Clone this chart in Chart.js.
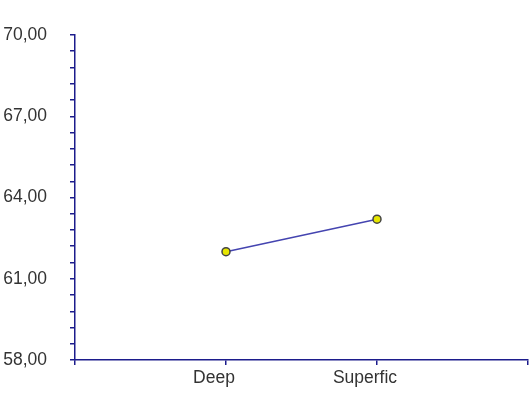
<!DOCTYPE html>
<html>
<head>
<meta charset="utf-8">
<script src="https://cdn.jsdelivr.net/npm/chart.js@4"></script>
<style>
  html, body { margin: 0; padding: 0; background: #fff; }
  #wrap { width: 530px; height: 408px; }
</style>
</head>
<body>
<div id="wrap"><canvas id="chart" width="530" height="408"></canvas></div>
<script>
const categories = ['Deep', 'Superfic'];
const values = [62.0, 63.2];
const yTickLabels = [58, 61, 64, 67, 70];

const axisColor = '#1c1c8c';
const points = categories.map((c, i) => ({ x: i + 1, y: values[i] }));

const ctx = document.getElementById('chart').getContext('2d');
const chart = new Chart(ctx, {
    type: 'line',
    data: {
        datasets: [{
            data: points,
            borderColor: '#4444b0',
            borderWidth: 1.5,
            pointBackgroundColor: '#e6e600',
            pointBorderColor: '#444',
            pointBorderWidth: 1.5,
            pointRadius: 4,
            tension: 0
        }]
    },
    options: {
        responsive: false,
        animation: false,
        layout: { autoPadding: false, padding: { top: 35, right: 2, left: 0, bottom: 0 } },
        plugins: { legend: { display: false }, tooltip: { enabled: false } },
        scales: {
            x: {
                type: 'linear',
                min: 0,
                max: categories.length + 1,
                afterFit: s => { s.height = 48; },
                afterBuildTicks: s => {
                    s.ticks = [];
                    for (let i = 0; i <= categories.length + 1; i++) s.ticks.push({ value: i });
                },
                border: { color: axisColor, width: 1.5 },
                grid: { drawOnChartArea: false, tickLength: 5, color: axisColor, lineWidth: 1.5 },
                ticks: {
                    padding: 0,
                    labelOffset: -12,
                    color: '#333',
                    font: { family: 'Liberation Sans', size: 17.5, lineHeight: 1.55 },
                    maxRotation: 0,
                    autoSkip: false,
                    callback: v => categories[v - 1] || ''
                }
            },
            y: {
                min: 58,
                max: 70,
                afterFit: s => { s.width = 75; },
                afterBuildTicks: s => {
                    s.ticks = [];
                    for (let i = 0; i <= 20; i++) s.ticks.push({ value: 58 + i * 0.6 });
                },
                border: { color: axisColor, width: 1.5 },
                grid: { drawOnChartArea: false, tickLength: 5, color: axisColor, lineWidth: 1.5 },
                ticks: {
                    padding: 23,
                    color: '#333',
                    font: { family: 'Liberation Sans', size: 17.5 },
                    autoSkip: false,
                    callback: v => {
                        const hit = yTickLabels.find(t => Math.abs(t - v) < 1e-6);
                        return hit !== undefined ? hit.toFixed(2).replace('.', ',') : '';
                    }
                }
            }
        }
    }
});
</script>
</body>
</html>
